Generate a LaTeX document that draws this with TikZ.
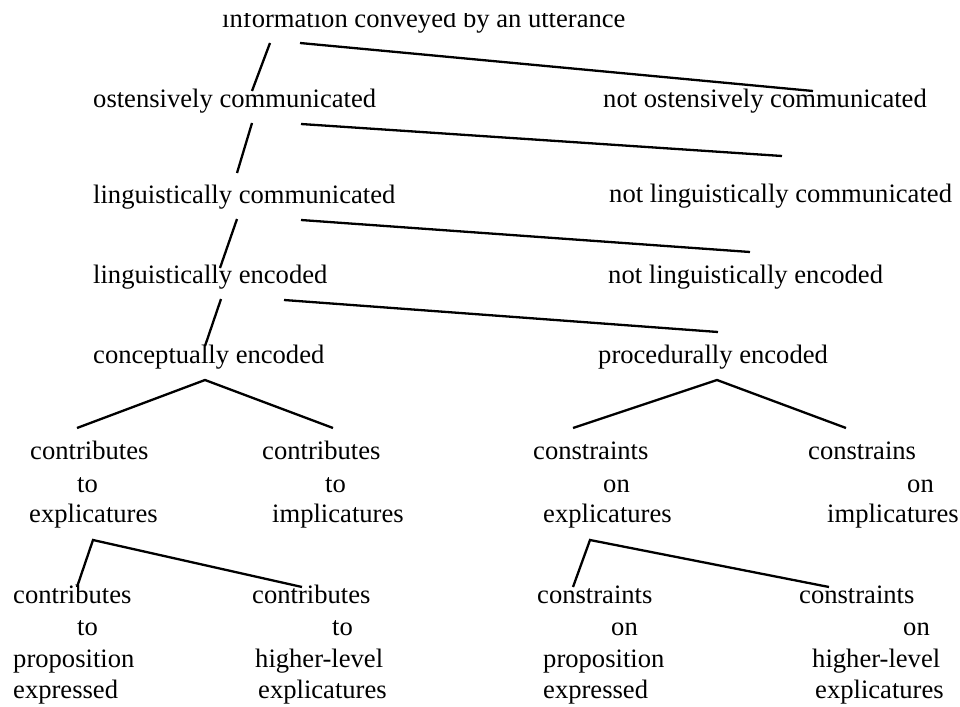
\documentclass[tikz,border=0pt]{standalone}
\usepackage{fontspec}
\setmainfont{Liberation Serif}
\begin{document}
\begin{tikzpicture}[x=1pt,y=-1pt,
  lbl/.style={anchor=base west, inner sep=0pt, font=\fontsize{26.6}{32}\selectfont},
  branch/.style={line width=2.3pt, line cap=butt}]
\useasboundingbox (0,0) rectangle (960,706);

% root label (its top edge is cut off)
\begin{scope}
  \clip (0,13.5) rectangle (960,60);
  \node[lbl] (root) at (222,28) {information conveyed by an utterance};
\end{scope}

% main spine
\node[lbl] (osc)  at (93,107)  {ostensively communicated};
\node[lbl] (nosc) at (603,107) {not ostensively communicated};
\node[lbl] (lc)   at (93,203)  {linguistically communicated};
\node[lbl] (nlc)  at (609,202) {not linguistically communicated};
\node[lbl] (le)   at (93,283)  {linguistically encoded};
\node[lbl] (nle)  at (608,283) {not linguistically encoded};
\node[lbl] (ce)   at (93,363)  {conceptually encoded};
\node[lbl] (pe)   at (598,363) {procedurally encoded};

% third level
\node[lbl] (cxa) at (30,459)  {contributes};
\node[lbl] (cxb) at (77,492)  {to};
\node[lbl] (cxc) at (29,522)  {explicatures};
\node[lbl] (cia) at (262,459) {contributes};
\node[lbl] (cib) at (325,492) {to};
\node[lbl] (cic) at (272,522) {implicatures};
\node[lbl] (pxa) at (533,459) {constraints};
\node[lbl] (pxb) at (603,492) {on};
\node[lbl] (pxc) at (543,522) {explicatures};
\node[lbl] (pia) at (808,459) {constrains};
\node[lbl] (pib) at (907,492) {on};
\node[lbl] (pic) at (827,522) {implicatures};

% fourth level
\node[lbl] (cpa) at (13,603)  {contributes};
\node[lbl] (cpb) at (77,635)  {to};
\node[lbl] (cpc) at (13,667)  {proposition};
\node[lbl] (cpd) at (13,698)  {expressed};
\node[lbl] (cha) at (252,603) {contributes};
\node[lbl] (chb) at (332,635) {to};
\node[lbl] (chc) at (255,667) {higher-level};
\node[lbl] (chd) at (258,698) {explicatures};
\node[lbl] (ppa) at (537,603) {constraints};
\node[lbl] (ppb) at (611,635) {on};
\node[lbl] (ppc) at (543,667) {proposition};
\node[lbl] (ppd) at (543,698) {expressed};
\node[lbl] (pha) at (799,603) {constraints};
\node[lbl] (phb) at (903,635) {on};
\node[lbl] (phc) at (812,667) {higher-level};
\node[lbl] (phd) at (815,698) {explicatures};

% branch end points
\coordinate (r1) at (270,43);  \coordinate (r2) at (252,91);
\coordinate (r3) at (300,43);  \coordinate (r4) at (813,91);
\coordinate (o1) at (252,123); \coordinate (o2) at (237,173);
\coordinate (o3) at (301,124); \coordinate (o4) at (782,156);
\coordinate (l1) at (237,219); \coordinate (l2) at (220,268);
\coordinate (l3) at (301,220); \coordinate (l4) at (750,252);
\coordinate (e1) at (221,299); \coordinate (e2) at (205,346);
\coordinate (e3) at (284,300); \coordinate (e4) at (718,332);
\coordinate (ca) at (205,380); \coordinate (cl) at (77,428);  \coordinate (cr) at (333,428);
\coordinate (pa) at (717,380); \coordinate (pl) at (573,428); \coordinate (pr) at (846,428);
\coordinate (xa) at (93,540);  \coordinate (xl) at (77,587);  \coordinate (xr) at (302,587);
\coordinate (ya) at (590,540); \coordinate (yl) at (573,587); \coordinate (yr) at (829,587);

\draw[branch] (r1) -- (r2);
\draw[branch] (r3) -- (r4);
\draw[branch] (o1) -- (o2);
\draw[branch] (o3) -- (o4);
\draw[branch] (l1) -- (l2);
\draw[branch] (l3) -- (l4);
\draw[branch] (e1) -- (e2);
\draw[branch] (e3) -- (e4);
\draw[branch] (cl) -- (ca) -- (cr);
\draw[branch] (pl) -- (pa) -- (pr);
\draw[branch] (xl) -- (xa) -- (xr);
\draw[branch] (yl) -- (ya) -- (yr);
\end{tikzpicture}
\end{document}
